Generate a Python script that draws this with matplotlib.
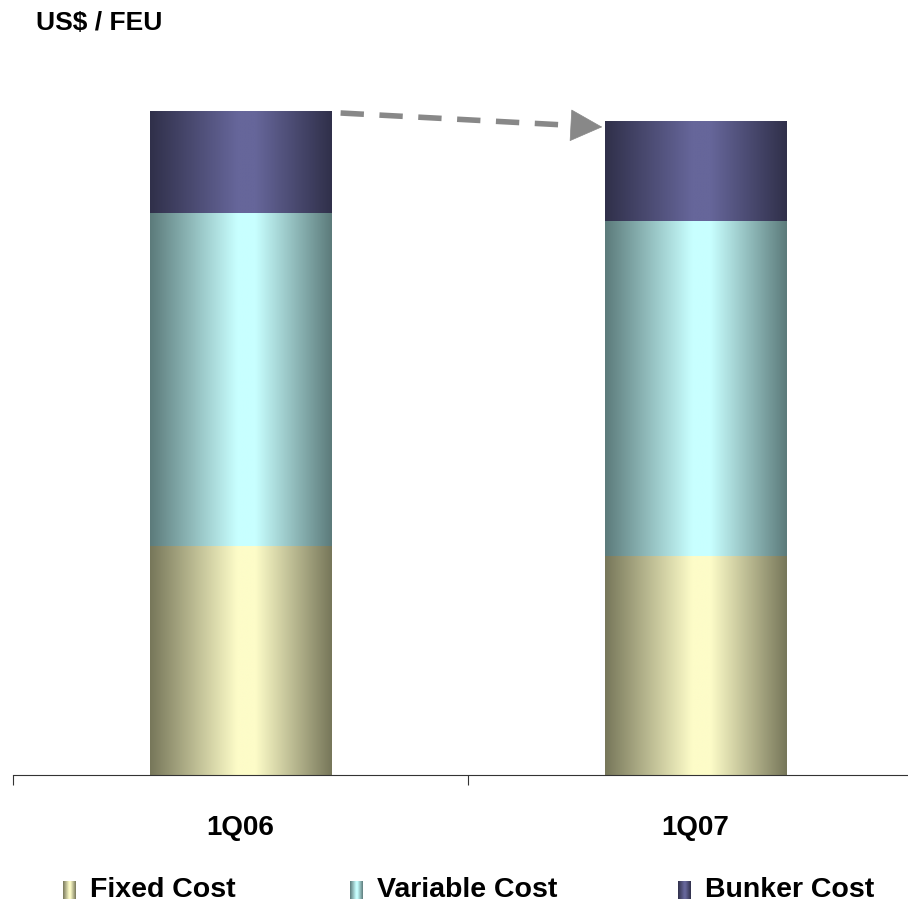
import numpy as np
import matplotlib
matplotlib.use('Agg')
import matplotlib.pyplot as plt
from matplotlib.colors import LinearSegmentedColormap

plt.rcParams['font.family'] = ['Liberation Sans', 'DejaVu Sans']

# ========================
# Data (arbitrary units)
# ========================
quarters = ['1Q06', '1Q07']
fixed_cost = [229, 219]
variable_cost = [333, 335]
bunker_cost = [102, 100]
series_names = ['Fixed Cost', 'Variable Cost', 'Bunker Cost']

# (edge colour, centre colour) for the horizontal shading
shades = [('#77775a', '#fdfcc8'),
          ('#5c7b7b', '#c8ffff'),
          ('#30304a', '#66669a')]


def make_cmap(edge, centre):
    return LinearSegmentedColormap.from_list(
        'g', [(0.0, edge), (0.48, centre), (0.58, centre), (1.0, edge)])


grad = np.linspace(0, 1, 256).reshape(1, -1)
cmaps = [make_cmap(e, c) for e, c in shades]

W, H = 908, 907
fig = plt.figure(figsize=(W / 100, H / 100), dpi=100)
ax = fig.add_axes([13 / W, 132 / H, 910 / W, 715 / H])

bar_w = 0.4
x = np.arange(len(quarters))
stacks = [fixed_cost, variable_cost, bunker_cost]
totals = np.sum(stacks, axis=0)

for i in range(len(quarters)):
    bottom = 0
    for s, vals in enumerate(stacks):
        ax.imshow(grad, extent=(x[i] - bar_w / 2, x[i] + bar_w / 2, bottom, bottom + vals[i]),
                  aspect='auto', cmap=cmaps[s], zorder=2, interpolation='bilinear')
        bottom += vals[i]

ax.set_xlim(-0.5, 1.5)
ax.set_ylim(0, 715)

# dashed arrow between bar tops
x0, y0 = x[0] + bar_w / 2 + 0.02, totals[0] - 2
x1, y1 = x[1] - bar_w / 2 - 0.005, totals[1] - 6
frac = 0.93
ax.plot([x0, x0 + (x1 - x0) * frac], [y0, y0 + (y1 - y0) * frac],
        color='#888888', lw=4.0, dashes=(4.2, 2.8), solid_capstyle='butt', zorder=3)
ax.annotate('', xy=(x1, y1), xytext=(x0 + (x1 - x0) * 0.9, y0 + (y1 - y0) * 0.9),
            arrowprops=dict(arrowstyle='-|>,head_length=1.1,head_width=0.55',
                            color='#888888', lw=0.5, mutation_scale=20,
                            shrinkA=0, shrinkB=0), zorder=3)

# axes styling
for side in ['top', 'left', 'right']:
    ax.spines[side].set_visible(False)
ax.spines['bottom'].set_color('#333333')
ax.set_yticks([])
ax.set_xticks([-0.5, 0.5, 1.5])
ax.set_xticklabels([])
ax.tick_params(axis='x', which='major', direction='out', length=7, color='#333333')
ax.set_xticks(x, minor=True)
ax.set_xticklabels(quarters, minor=True, fontsize=20, fontweight='bold')
ax.tick_params(axis='x', which='minor', length=0, pad=29)

fig.text(36 / W, 1 - 23 / H, 'US$ / FEU', fontsize=19, fontweight='bold',
         ha='left', va='center')

# legend with shaded swatches
swatch_x = [63, 350, 678]
for name, cmap, sx in zip(series_names, cmaps, swatch_x):
    sw = fig.add_axes([sx / W, 1 - 899 / H, 13 / W, 18 / H])
    sw.imshow(grad, aspect='auto', cmap=cmap, interpolation='bilinear')
    sw.axis('off')
    fig.text((sx + 27) / W, 1 - 890 / H, name, fontsize=20.5, fontweight='bold',
             ha='left', va='center')

fig.savefig('out.png', dpi=100)
